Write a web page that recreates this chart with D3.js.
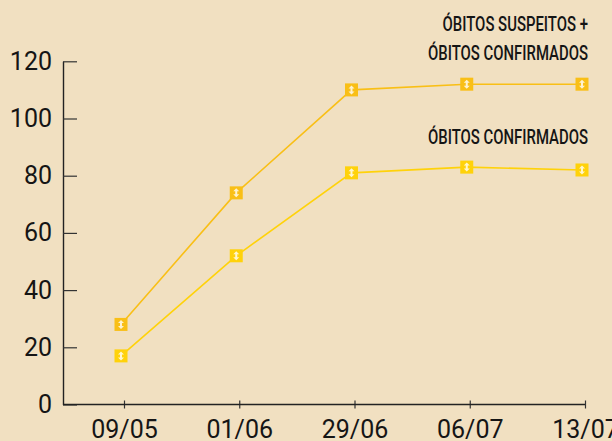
<!DOCTYPE html>
<html>
<head>
<meta charset="utf-8">
<script src="https://cdn.jsdelivr.net/npm/d3@7"></script>
<style>
  html, body { margin: 0; padding: 0; background: #f1e0c1; }
  svg { display: block; }
  .tick text { font-family: Roboto, "Noto Sans", sans-serif; font-size: 25px; fill: #151515; }
  .label { font-family: Roboto, "Noto Sans", sans-serif; font-weight: 500; font-size: 21px; fill: #151515; }
</style>
</head>
<body>
<div id="chart"></div>
<script>
const dates = ["09/05", "01/06", "29/06", "06/07", "13/07"];
const suspeitosMaisConfirmados = [28, 74, 110, 112, 112];
const confirmados = [17, 52, 81, 83, 82];
const yTicks = [0, 20, 40, 60, 80, 100, 120];
const labelLines = [["ÓBITOS SUSPEITOS +", "ÓBITOS CONFIRMADOS"], ["ÓBITOS CONFIRMADOS"]];

const width = 612, height = 441;
const axisX = 63;

const svg = d3.select("#chart")
              .append("svg")
              .attr("width", width)
              .attr("height", height);

const x = d3.scalePoint()
            .domain(dates)
            .range([124, 585]);

const y = d3.scaleLinear()
            .domain([0, 120])
            .range([404.5, 61.3]);

// y axis, ticks point inward
const yAxis = svg.append("g")
                 .attr("transform", `translate(${axisX},0)`)
                 .call(d3.axisLeft(y)
                         .tickValues(yTicks)
                         .tickSizeInner(-14)
                         .tickSizeOuter(0)
                         .tickPadding(11));
yAxis.select(".domain").attr("stroke", "#222").attr("stroke-width", 1.4);
yAxis.selectAll(".tick line").attr("stroke", "#333").attr("stroke-width", 1.2);

// x axis, ticks cross the baseline
const xAxis = svg.append("g")
                 .attr("transform", `translate(0,${y(0)})`)
                 .call(d3.axisBottom(x)
                         .tickSizeInner(4)
                         .tickSizeOuter(0)
                         .tickPadding(12));
xAxis.select(".domain").remove();
xAxis.append("line")
     .attr("x1", axisX)
     .attr("x2", x(dates[dates.length - 1]))
     .attr("stroke", "#222")
     .attr("stroke-width", 1.4);
xAxis.selectAll(".tick line")
     .attr("y1", -4)
     .attr("y2", 4)
     .attr("stroke", "#333")
     .attr("stroke-width", 1.2);

const series = [
    { values: suspeitosMaisConfirmados, color: "#f9bf16" },
    { values: confirmados, color: "#ffd20a" }
];

const dx = -3;
const line = d3.line()
               .x((d, i) => x(dates[i]) + dx)
               .y(d => y(d));

const glyph = "M0,-4.5 L3,-1.5 L1,-1.5 L1,1.5 L3,1.5 L0,4.5 L-3,1.5 L-1,1.5 L-1,-1.5 L-3,-1.5 Z";

series.forEach(s => {
    const g = svg.append("g");
    g.append("path")
     .datum(s.values)
     .attr("fill", "none")
     .attr("stroke", s.color)
     .attr("stroke-width", 1.6)
     .attr("d", line);

    const m = g.selectAll("g.marker")
               .data(s.values)
               .enter()
               .append("g")
               .attr("class", "marker")
               .attr("transform", (d, i) => `translate(${x(dates[i]) + dx},${y(d)})`);
    m.append("rect")
     .attr("x", -6.5)
     .attr("y", -6.5)
     .attr("width", 13)
     .attr("height", 13)
     .attr("fill", s.color);
    m.append("path")
     .attr("d", glyph)
     .attr("fill", "#fff")
     .attr("opacity", 0.8);
});

// right-aligned series labels, condensed by a horizontal squeeze
const labelY = [[30.5, 59.5], [143.5]];
labelLines.forEach((lines, i) => {
    lines.forEach((t, j) => {
        svg.append("text")
           .attr("class", "label")
           .attr("transform", `translate(588,${labelY[i][j]}) scale(0.71,1)`)
           .attr("text-anchor", "end")
           .text(t);
    });
});
</script>
</body>
</html>
